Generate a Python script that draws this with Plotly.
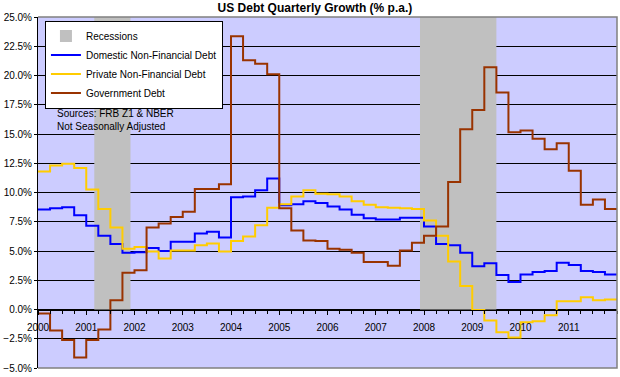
import plotly.graph_objects as go

# ---- data (quarterly growth, % p.a.) ----
years = list(range(2000, 2012))
quarter_x = [y + q / 4 for y in years for q in range(4)]

domestic = [8.55, 8.65, 8.75, 8.05,
            7.15, 6.3, 5.6, 4.85,
            4.9, 5.25, 5.0, 5.8,
            5.8, 6.5, 6.65, 6.15,
            9.6, 9.65, 10.2, 11.2,
            8.9, 9.0, 9.25, 9.1,
            8.8, 8.55, 8.1, 7.8,
            7.7, 7.7, 7.85, 7.85,
            7.1, 5.6, 5.5, 4.85,
            3.7, 3.95, 2.95, 2.35,
            3.0, 3.2, 3.3, 4.0,
            3.8, 3.3, 3.2, 3.0]
private = [11.8, 12.3, 12.45, 12.1,
           10.25, 8.6, 7.0, 5.2,
           5.35, 4.95, 4.35, 5.05,
           5.05, 5.5, 5.65, 4.95,
           5.85, 6.25, 7.2, 8.7,
           9.0, 9.65, 10.2, 9.9,
           9.85, 9.65, 9.25, 8.95,
           8.75, 8.7, 8.65, 8.6,
           7.6, 6.3, 4.1, 2.0,
           -0.05, -0.95, -1.95, -2.4,
           -1.1, -1.0, -0.5, 0.7,
           0.7, 1.05, 0.8, 0.85]
government = [-0.35, -1.8, -2.6, -4.1,
              -2.6, -1.7, 0.8, 3.15,
              3.35, 7.0, 7.35, 7.9,
              8.35, 10.3, 10.3, 10.7,
              23.35, 21.3, 21.0, 20.1,
              8.65, 6.75, 5.9, 5.85,
              5.2, 5.1, 4.85, 4.05,
              4.05, 3.75, 5.05, 5.7,
              6.3, 7.1, 10.9, 15.4,
              17.05, 20.7, 18.55, 15.15,
              15.3, 14.6, 13.7, 14.2,
              11.85, 8.95, 9.4, 8.6]

series_names = ["Domestic Non-Financial Debt", "Private Non-Financial Debt", "Government Debt"]
series_colors = ["#0000FF", "#FFCC00", "#993300"]

# NBER recessions (year, month) start / end
recession_start = [(2001, 3), (2007, 12)]
recession_end = [(2001, 11), (2009, 6)]

x_tick_labels = [str(y) for y in years]

FONT = "Liberation Sans, Arial, sans-serif"

fig = go.Figure()

step_x = quarter_x + [quarter_x[-1] + 0.25]
for name, color, vals in zip(series_names, series_colors, [domestic, private, government]):
    fig.add_trace(go.Scatter(
        x=step_x, y=vals + [vals[-1]], mode="lines", name=name,
        line=dict(color=color, width=2, shape="hv"), hoverinfo="skip"))

for i, (s, e) in enumerate(zip(recession_start, recession_end)):
    fig.add_shape(type="rect", xref="x", yref="y",
                  x0=s[0] + (s[1] - 1) / 12, x1=e[0] + e[1] / 12,
                  y0=0, y1=25, fillcolor="#C0C0C0", line=dict(width=0),
                  layer="between", showlegend=(i == 0), name="Recessions",
                  legendrank=1)

# plot frame (gray) top/right/bottom
fig.add_shape(type="path", xref="paper", yref="paper",
              path="M 0,1 L 1,1 L 1,0 L 0,0", line=dict(color="#808080", width=1.5),
              layer="above")

fig.add_annotation(xref="paper", yref="paper", x=0.029, y=0.746, xanchor="left", yanchor="top",
                   text="Sources: FRB Z1 &amp; NBER<br>Not Seasonally Adjusted", showarrow=False,
                   align="left", font=dict(family=FONT, size=10, color="#000000"))

fig.update_layout(
    width=620, height=377,
    margin=dict(l=38, r=3, t=17, b=5),
    paper_bgcolor="#FFFFFF", plot_bgcolor="#CCCCFF",
    font=dict(family=FONT, size=10, color="#000000"),
    title=dict(text="<b>US Debt Quarterly Growth (% p.a.)</b>", x=0.508, xref="container",
               y=0.978, yanchor="middle", font=dict(family=FONT, size=12, color="#000000")),
    showlegend=True,
    legend=dict(x=0.012, y=0.99, xanchor="left", yanchor="top", bgcolor="#FFFFFF",
                bordercolor="#000000", borderwidth=1, tracegroupgap=0,
                font=dict(family=FONT, size=10, color="#000000")),
    xaxis=dict(range=[2000, 2012], anchor="free", position=5 / 30,
               tickvals=years, ticktext=x_tick_labels, ticks="outside", ticklen=4,
               tickcolor="#000000", showline=True, linecolor="#000000", linewidth=1,
               showgrid=False, zeroline=False, ticklabelstandoff=4,
               ticklabeloverflow="allow",
               minor=dict(dtick=0.25, ticks="outside", ticklen=3, tickcolor="#000000"),
               tickfont=dict(family=FONT, size=10)),
    xaxis2=dict(range=[2000, 2012], anchor="free", position=5 / 30, overlaying="x",
                tickvals=years, ticks="inside", ticklen=4, tickcolor="#000000",
                showticklabels=False, showgrid=False, zeroline=False,
                minor=dict(dtick=0.25, ticks="inside", ticklen=3, tickcolor="#000000")),
    yaxis=dict(range=[-5, 25], dtick=2.5, tick0=0, tickformat=".1f", ticksuffix="%",
               showgrid=True, gridcolor="#000000", gridwidth=1, zeroline=False,
               showline=True, linecolor="#000000", linewidth=1,
               ticks="outside", ticklen=3, tickcolor="#000000",
               ticklabeloverflow="allow",
               tickfont=dict(family=FONT, size=10)),
)

fig.write_html("out.html", config={"displayModeBar": False},
               post_script="document.body.style.margin='0px';")
